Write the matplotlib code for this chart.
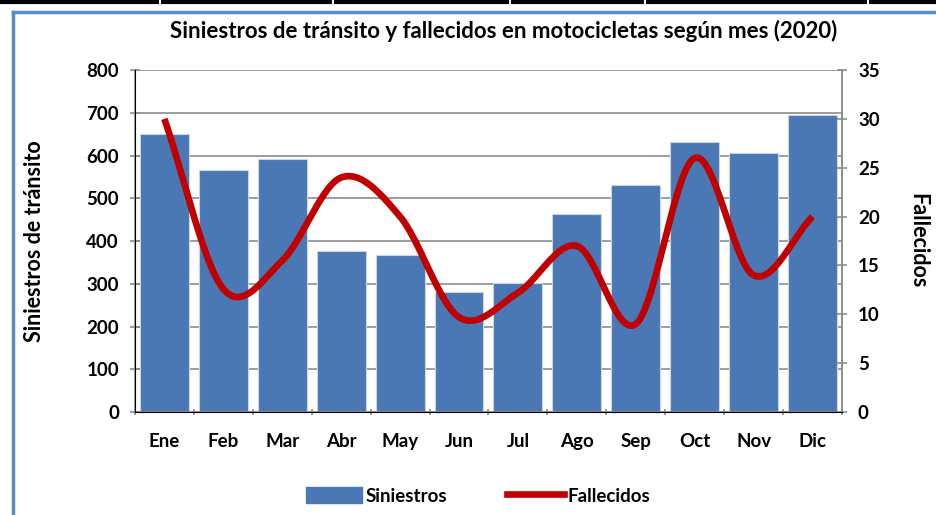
import numpy as np
import matplotlib.pyplot as plt
from matplotlib.lines import Line2D
from matplotlib.patches import Rectangle

plt.rcParams['font.family'] = ['Lato', 'DejaVu Sans']
plt.rcParams['font.weight'] = 'bold'

meses = ['Ene', 'Feb', 'Mar', 'Abr', 'May', 'Jun',
         'Jul', 'Ago', 'Sep', 'Oct', 'Nov', 'Dic']
siniestros = [651, 566, 592, 377, 368, 281, 302, 463, 531, 632, 606, 695]
fallecidos = [30, 12.6, 15.5, 24, 20, 9.7, 12.2, 17, 9, 26, 14, 20]

BAR_COLOR = '#4a78b4'
LINE_COLOR = '#c00000'
GRID_COLOR = '#8c8c8c'
TICK_SIZE = 13.5


def smooth_line(x, y, n=30):
    # Catmull-Rom curve through the points, like the smoothed line in Excel
    x = np.asarray(x, float)
    y = np.asarray(y, float)
    px = np.concatenate([[2 * x[0] - x[1]], x, [2 * x[-1] - x[-2]]])
    py = np.concatenate([[2 * y[0] - y[1]], y, [2 * y[-1] - y[-2]]])
    xs, ys = [], []
    t = np.linspace(0, 1, n)
    for i in range(1, len(px) - 2):
        for p, out in ((px, xs), (py, ys)):
            p0, p1, p2, p3 = p[i - 1], p[i], p[i + 1], p[i + 2]
            out.extend(0.5 * ((2 * p1) + (-p0 + p2) * t
                              + (2 * p0 - 5 * p1 + 4 * p2 - p3) * t ** 2
                              + (-p0 + 3 * p1 - 3 * p2 + p3) * t ** 3))
    return np.array(xs), np.array(ys)


fig = plt.figure(figsize=(9.37, 5.15), dpi=100)
ax = fig.add_axes([0.144, 0.2, 0.7546, 0.664])
x = np.arange(len(meses))

ax.bar(x, siniestros, width=0.83, color=BAR_COLOR, edgecolor='#c9d6ea',
       linewidth=0.8, zorder=2)
ax.set_xlim(-0.5, len(meses) - 0.5)
ax.set_ylim(0, 800)
ax.set_yticks(range(0, 801, 100))
ax.yaxis.grid(True, color=GRID_COLOR, linewidth=1.2, zorder=0)
ax.set_axisbelow(True)
ax.set_xticks(x)
ax.set_xticklabels(meses, fontsize=TICK_SIZE, fontweight='bold')
ax.set_xticks(np.arange(-0.5, len(meses)), minor=True)
ax.tick_params(axis='x', which='major', length=0, pad=15)
ax.tick_params(axis='x', which='minor', length=5, direction='inout',
               color=GRID_COLOR, width=1.2)
ax.tick_params(axis='y', length=7, direction='inout', color=GRID_COLOR,
               width=1.2, labelsize=TICK_SIZE, pad=8)
for lab in ax.get_yticklabels():
    lab.set_fontweight('bold')
ax.spines['top'].set_visible(False)
for s in ['left', 'right', 'bottom']:
    ax.spines[s].set_color(GRID_COLOR)
    ax.spines[s].set_linewidth(1.2)
ax.set_ylabel('Siniestros de tránsito', fontsize=15.5, fontweight='bold',
              labelpad=30)

ax2 = ax.twinx()
sx, sy = smooth_line(x, fallecidos)
ax2.plot(sx, sy, color=LINE_COLOR, linewidth=4.8, solid_capstyle='butt',
         zorder=3)
ax2.set_ylim(0, 35)
ax2.set_yticks(range(0, 36, 5))
ax2.tick_params(axis='y', length=7, direction='inout', color=GRID_COLOR,
                width=1.2, labelsize=TICK_SIZE, pad=8)
for lab in ax2.get_yticklabels():
    lab.set_fontweight('bold')
ax2.spines['top'].set_visible(False)
ax2.spines['right'].set_color(GRID_COLOR)
ax2.spines['right'].set_linewidth(1.2)
ax2.set_ylabel('Fallecidos', fontsize=15.5, fontweight='bold', rotation=-90,
               labelpad=35)

fig.text(0.537, 0.94, 'Siniestros de tránsito y fallecidos en motocicletas '
         'según mes (2020)', ha='center', va='center', fontsize=16,
         fontweight='bold')

handles = [Rectangle((0, 0), 1, 1, color=BAR_COLOR),
           Line2D([0], [0], color=LINE_COLOR, linewidth=4.8)]
fig.legend(handles, ['Siniestros', 'Fallecidos'], loc='center',
           bbox_to_anchor=(0.51, 0.037), ncol=2, frameon=False,
           fontsize=TICK_SIZE, handlelength=3.0, handleheight=0.9,
           columnspacing=3.2, handletextpad=0.2)

# blue frame of the chart and the page table line above it
fig.add_artist(Line2D([0.0139, 0.0139], [0, 0.977], color='#5b8ac6',
                      linewidth=2.5, transform=fig.transFigure))
fig.add_artist(Line2D([0.0139, 1], [0.977, 0.977], color='#5b8ac6',
                      linewidth=2.5, transform=fig.transFigure))
fig.add_artist(Line2D([0, 1], [0.997, 0.997], color='black', linewidth=3,
                      transform=fig.transFigure))
for xs_ in [160, 333, 510, 645, 868]:
    fig.add_artist(Line2D([xs_ / 937, xs_ / 937], [0.99, 1.0], color='white',
                          linewidth=1.5, transform=fig.transFigure))

fig.savefig('out.png', dpi=100)
